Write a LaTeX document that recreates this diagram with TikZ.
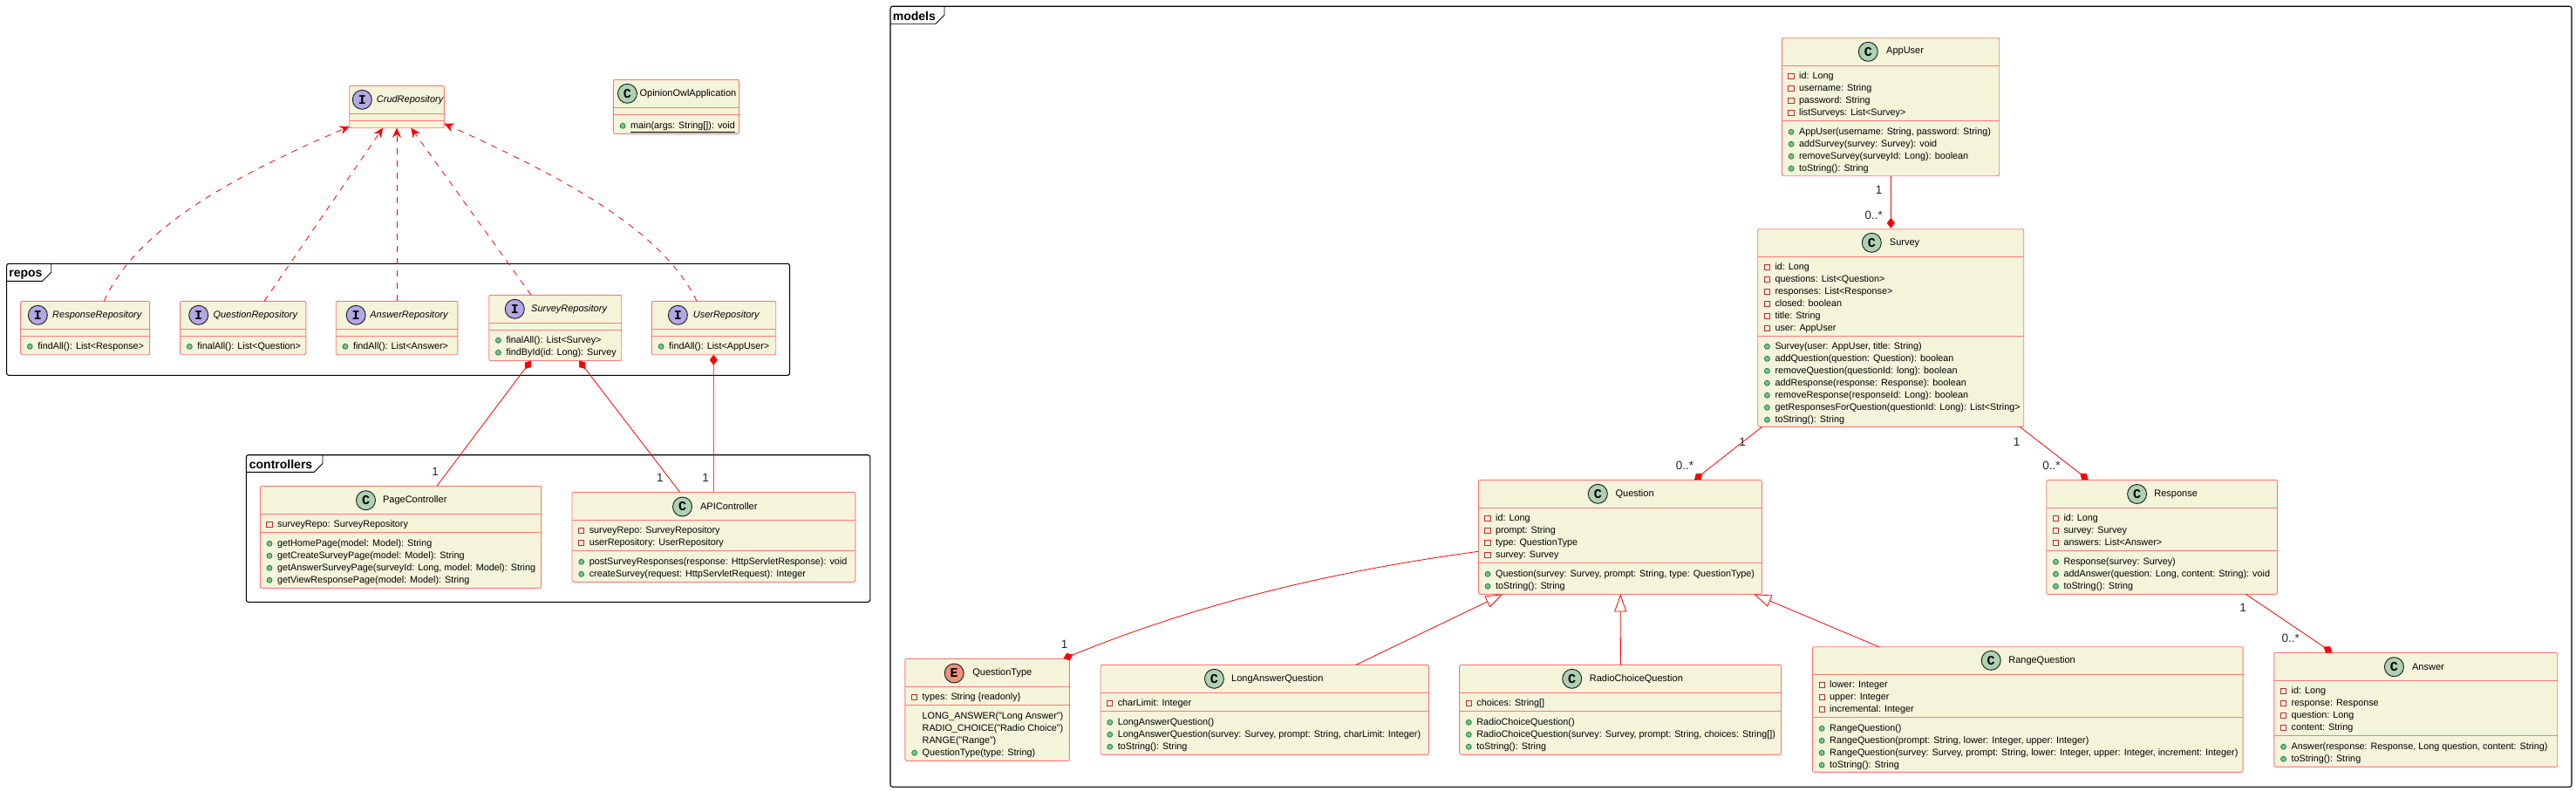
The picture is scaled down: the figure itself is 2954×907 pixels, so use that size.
\documentclass[tikz,border=0pt]{standalone}
\usepackage{fontspec}
\setmainfont{Liberation Sans}
\setmonofont{Liberation Mono}
\usepackage{xcolor}
\usepackage{tikz}
\usetikzlibrary{arrows.meta}
\definecolor{boxfill}{HTML}{F4F4DB}
\definecolor{boxline}{HTML}{FF7878}
\definecolor{linkred}{HTML}{FF0000}
\definecolor{privred}{HTML}{C82930}
\definecolor{pubfill}{HTML}{84BE84}
\definecolor{publine}{HTML}{038048}
\definecolor{classfill}{HTML}{ADD1B2}
\definecolor{ifacefill}{HTML}{B4A7E5}
\definecolor{enumfill}{HTML}{EB937F}
\tikzset{
  classnode/.style={draw=boxline,fill=boxfill,line width=.9pt,rounded corners=2pt,inner sep=0pt,outer sep=0pt},
  sepline/.style={draw=boxline,line width=.9pt},
  headicon/.style={circle,draw=black!90,line width=.9pt,minimum size=22pt,inner sep=0pt,font=\ttfamily\bfseries\fontsize{15}{15}\selectfont},
  headtext/.style={anchor=west,inner sep=0pt,font=\fontsize{11}{14}\selectfont},
  rowtext/.style={anchor=base west,inner sep=0pt,font=\fontsize{10.8}{14}\selectfont},
  attricon/.style={draw=privred,line width=.9pt},
  methodicon/.style={draw=publine,fill=pubfill,line width=.7pt},
  packframe/.style={draw=black,line width=1.1pt,rounded corners=2.5pt},
  packtab/.style={draw=black,line width=.9pt},
  packtext/.style={anchor=base west,inner sep=0pt,font=\bfseries\fontsize{14}{16}\selectfont},
  multlabel/.style={inner sep=0pt,text=black!85,font=\fontsize{13.5}{14}\selectfont},
  compose/.style={draw=linkred,line width=.8pt,-{Diamond[length=12pt,width=9pt,fill=linkred]}},
  inherit/.style={draw=linkred,line width=.8pt,-{Triangle[open,length=20pt,width=14pt,fill=white]}},
  realize/.style={draw=linkred,line width=.8pt,dash pattern=on 7pt off 7pt,-{Stealth[length=11pt,width=10pt,inset=3.5pt]}},
}
\newcommand{\classbox}[7]{%
  \pgfmathsetmacro{\boxw}{#4-#2}\pgfmathsetmacro{\boxh}{#5-#3}
  \node[classnode,minimum width=\boxw pt,minimum height=\boxh pt] (#1) at ({(#2+#4)/2},{(#3+#5)/2}) {};
  \draw[sepline] (#2,#6) -- (#4,#6);
  \draw[sepline] (#2,#7) -- (#4,#7);
}
\newcommand{\classhead}[7]{%
  \node[headicon,fill=#2] (#1-icon) at (#3,#4) {#5};
  \node[headtext] (#1-title) at (#6,#4) {#7};
}
\newcommand{\attrrows}[4]{%
  \foreach \rowitem [count=\n] in {#4} {
    \draw[attricon] (#2+7.6,#3+14*\n-16) rectangle ++(6.2,6.2);
    \node[rowtext] (#1-attr\n) at (#2+19.6,#3+14*\n-10) {\rowitem};
  }
}
\newcommand{\methodrows}[4]{%
  \foreach \rowitem [count=\n] in {#4} {
    \draw[methodicon] (#2+10.7,#3+14*\n-13) circle (3pt);
    \node[rowtext] (#1-meth\n) at (#2+19.6,#3+14*\n-10) {\rowitem};
  }
}
\newcommand{\plainrows}[4]{%
  \foreach \rowitem [count=\n] in {#4} {
    \node[rowtext] (#1-lit\n) at (#2+19.6,#3+14*\n-10) {\rowitem};
  }
}
\begin{document}
\begin{tikzpicture}[x=1pt,y=-1pt]
\useasboundingbox (0,0) rectangle (2954,907);
\draw[packframe] (7.6,302.3) rectangle (905.6,430.3);
\draw[packtab] (7.6,322.3) -- (48.7,322.3) -- (58.7,312.3) -- (58.7,302.3);
\node[packtext] (reposlabel) at (10.2,317.3) {repos};
\draw[packframe] (282.3,521.7) rectangle (997.8,690.3);
\draw[packtab] (282.3,541.3) -- (360.3,541.3) -- (370,531.5) -- (370,521.7);
\node[packtext] (controllerslabel) at (285.7,537.3) {controllers};
\draw[packframe] (1021,7.3) rectangle (2949,902.3);
\draw[packtab] (1021,27.3) -- (1073,27.3) -- (1083,17.3) -- (1083,7.3);
\node[packtext] (modelslabel) at (1023.6,23.3) {models};

\classbox{crudrepo}{400.7}{98.3}{509.3}{146.7}{130.5}{138.3}
\classhead{crudrepo}{ifacefill}{415.3}{114.3}{I}{431.7}{\textit{CrudRepository}}
\classbox{owlapp}{703.4}{91.3}{847.6}{153.3}{123.3}{131.3}
\classhead{owlapp}{classfill}{719.4}{107.3}{C}{733.4}{OpinionOwlApplication}
\methodrows{owlapp}{703.4}{143.3}{\underline{main(args: String[]): void}}

\classbox{responserepo}{23.6}{345.3}{171.6}{406.7}{377.3}{385.3}
\classhead{responserepo}{ifacefill}{43.4}{361.3}{I}{60}{\textit{ResponseRepository}}
\methodrows{responserepo}{23.6}{396.3}{findAll(): List<Response>}
\classbox{questionrepo}{206.6}{345.3}{350.8}{406.7}{377.3}{385.3}
\classhead{questionrepo}{ifacefill}{227.7}{361.3}{I}{244.3}{\textit{QuestionRepository}}
\methodrows{questionrepo}{206.6}{396.3}{finalAll(): List<Question>}
\classbox{answerrepo}{385.2}{345.3}{524.9}{406.7}{377.3}{385.3}
\classhead{answerrepo}{ifacefill}{408.2}{361.3}{I}{424.1}{\textit{AnswerRepository}}
\methodrows{answerrepo}{385.2}{396.3}{findAll(): List<Answer>}
\classbox{surveyrepo}{560.7}{338.3}{712.7}{413.5}{370.5}{378.3}
\classhead{surveyrepo}{ifacefill}{590.3}{354.3}{I}{609}{\textit{SurveyRepository}}
\methodrows{surveyrepo}{560.7}{389.3}{finalAll(): List<Survey>,{findById(id: Long): Survey}}
\classbox{userrepo}{747.4}{345.3}{889.7}{406.7}{377.3}{385.3}
\classhead{userrepo}{ifacefill}{777.4}{361.3}{I}{794.6}{\textit{UserRepository}}
\methodrows{userrepo}{747.4}{396.3}{findAll(): List<AppUser>}

\classbox{pagectrl}{298.3}{557.3}{620.6}{674.3}{589.3}{610.3}
\classhead{pagectrl}{classfill}{419.5}{573.7}{C}{438.9}{PageController}
\attrrows{pagectrl}{298.3}{600.3}{surveyRepo: SurveyRepository}
\methodrows{pagectrl}{298.3}{622.3}{{getHomePage(model: Model): String},{getCreateSurveyPage(model: Model): String},{getAnswerSurveyPage(surveyId: Long, model: Model): String},{getViewResponsePage(model: Model): String}}
\classbox{apictrl}{656}{564.3}{980.8}{667.3}{596.3}{631.3}
\classhead{apictrl}{classfill}{782.5}{581}{C}{802.9}{APIController}
\attrrows{apictrl}{656}{607.3}{surveyRepo: SurveyRepository,userRepository: UserRepository}
\methodrows{apictrl}{656}{643.3}{{postSurveyResponses(response: HttpServletResponse): void},{createSurvey(request: HttpServletRequest): Integer}}

\classbox{appuser}{2043.3}{43.3}{2292.7}{201.7}{75.3}{138.3}
\classhead{appuser}{classfill}{2142.3}{59.3}{C}{2163}{AppUser}
\attrrows{appuser}{2043.3}{86.3}{id: Long,username: String,password: String,listSurveys: List<Survey>}
\methodrows{appuser}{2043.3}{150.3}{{AppUser(username: String, password: String)},{addSurvey(survey: Survey): void},{removeSurvey(surveyId: Long): boolean},toString(): String}
\classbox{survey}{2015.7}{262.7}{2320.7}{489.3}{294.3}{385.3}
\classhead{survey}{classfill}{2146.3}{278.3}{C}{2166.7}{Survey}
\attrrows{survey}{2015.7}{305.3}{id: Long,questions: List<Question>,responses: List<Response>,closed: boolean,title: String,user: AppUser}
\methodrows{survey}{2015.7}{396.3}{{Survey(user: AppUser, title: String)},{addQuestion(question: Question): boolean},{removeQuestion(questionId: long): boolean},{addResponse(response: Response): boolean},{removeResponse(responseId: Long): boolean},{getResponsesForQuestion(questionId: Long): List<String>},toString(): String}
\classbox{question}{1695.3}{550.3}{2020.3}{681.3}{582.3}{645.3}
\classhead{question}{classfill}{1832.3}{566.3}{C}{1852.4}{Question}
\attrrows{question}{1695.3}{593.3}{id: Long,prompt: String,type: QuestionType,survey: Survey}
\methodrows{question}{1695.3}{657.3}{{Question(survey: Survey, prompt: String, type: QuestionType)},toString(): String}
\classbox{response}{2346.7}{550.3}{2611.6}{681.3}{582.3}{631.3}
\classhead{response}{classfill}{2450.6}{566.5}{C}{2470.2}{Response}
\attrrows{response}{2346.7}{593.3}{id: Long,survey: Survey,answers: List<Answer>}
\methodrows{response}{2346.7}{643.3}{Response(survey: Survey),{addAnswer(question: Long, content: String): void},toString(): String}
\classbox{answer}{2607.8}{748.3}{2932.7}{879.3}{780.3}{843.3}
\classhead{answer}{classfill}{2745.4}{764.7}{C}{2765.9}{Answer}
\attrrows{answer}{2607.8}{791.3}{id: Long,response: Response,question: Long,content: String}
\methodrows{answer}{2607.8}{855.3}{{Answer(response: Response, Long question, content: String)},toString(): String}
\classbox{questiontype}{1037.9}{755.3}{1226.3}{872.3}{787.7}{808.3}
\classhead{questiontype}{enumfill}{1094.2}{772}{E}{1115.2}{QuestionType}
\attrrows{questiontype}{1037.9}{798.7}{types: String \{readonly\}}
\plainrows{questiontype}{1037.9}{820.3}{LONG\_ANSWER("Long Answer"),RADIO\_CHOICE("Radio Choice"),RANGE("Range")}
\methodrows{questiontype}{1037.9}{862.3}{QuestionType(type: String)}
\classbox{longanswer}{1262}{762.3}{1638.4}{865.3}{794.3}{815.3}
\classhead{longanswer}{classfill}{1392.4}{778.3}{C}{1412}{LongAnswerQuestion}
\attrrows{longanswer}{1262}{805.3}{charLimit: Integer}
\methodrows{longanswer}{1262}{827.3}{LongAnswerQuestion(),{LongAnswerQuestion(survey: Survey, prompt: String, charLimit: Integer)},toString(): String}
\classbox{radiochoice}{1673.6}{762.3}{2042.6}{865.3}{794.3}{815.3}
\classhead{radiochoice}{classfill}{1802.7}{778.3}{C}{1822.7}{RadioChoiceQuestion}
\attrrows{radiochoice}{1673.6}{805.3}{choices: String[]}
\methodrows{radiochoice}{1673.6}{827.3}{RadioChoiceQuestion(),{RadioChoiceQuestion(survey: Survey, prompt: String, choices: String[])},toString(): String}
\classbox{rangeq}{2078.4}{741.7}{2572.1}{885.3}{773.3}{822.3}
\classhead{rangeq}{classfill}{2283.2}{757.3}{C}{2303.1}{RangeQuestion}
\attrrows{rangeq}{2078.4}{784.3}{lower: Integer,upper: Integer,incremental: Integer}
\methodrows{rangeq}{2078.4}{834.3}{RangeQuestion(),{RangeQuestion(prompt: String, lower: Integer, upper: Integer)},{RangeQuestion(survey: Survey, prompt: String, lower: Integer, upper: Integer, increment: Integer)},toString(): String}

\draw[realize] ([xshift=95.7pt]responserepo.north west) .. controls (155,265) and (260,205) .. ([yshift=1.7pt]crudrepo.south west);
\draw[realize] ([xshift=96.4pt]questionrepo.north west) -- ([xshift=38.3pt]crudrepo.south west);
\draw[realize] (answerrepo.north -| crudrepo.south) -- (crudrepo.south);
\draw[realize] ([xshift=48.3pt]surveyrepo.north west) -- ([xshift=70.6pt]crudrepo.south west);
\draw[realize] ([xshift=51.6pt]userrepo.north west) .. controls (760,265) and (650,205) .. ([yshift=5pt]crudrepo.south east);

\draw[compose] ([xshift=202.7pt]pagectrl.north west) -- ([xshift=48.3pt]surveyrepo.south west);
\draw[compose] ([xshift=123.6pt]apictrl.north west) -- ([xshift=103.3pt]surveyrepo.south west);
\draw[compose] ([xshift=162.3pt]apictrl.north west) -- ([xshift=70.9pt]userrepo.south west);
\draw[compose] ([xshift=125pt]appuser.south west) -- ([xshift=152.6pt,yshift=1pt]survey.north west);
\draw[compose] ([xshift=5pt]survey.south west) -- ([xshift=247.6pt]question.north west);
\draw[compose] ([xshift=-4.7pt]survey.south east) -- ([xshift=48pt]response.north west);
\draw[compose] ([xshift=-36.3pt]response.south east) -- ([xshift=66.7pt]answer.north west);
\draw[compose] ([yshift=-82pt]question.north west) .. controls (1530,655) and (1380,690) .. ([xshift=-7pt]questiontype.north east);

\draw[inherit] ([xshift=292.9pt]longanswer.north west) -- ([xshift=28.1pt]question.south west);
\draw[inherit] ([xshift=184.8pt]radiochoice.north west) -- ([xshift=162.9pt]question.south west);
\draw[inherit] ([xshift=76.2pt]rangeq.north west) -- ([xshift=-9pt]question.south east);

\node[multlabel] (pagemult) at (499,541.3) {1};
\node[multlabel] (apimulta) at (756.8,548.3) {1};
\node[multlabel] (apimultb) at (809.2,548.3) {1};
\node[multlabel] (usermult) at (2154.7,218.3) {1};
\node[multlabel] (surveymult) at (2148.7,246.7) {0..*};
\node[multlabel] (questionone) at (1998,506.7) {1};
\node[multlabel] (questionmany) at (1932,534) {0..*};
\node[multlabel] (responseone) at (2312.7,507) {1};
\node[multlabel] (responsemany) at (2352.5,534) {0..*};
\node[multlabel] (answerone) at (2572,697.3) {1};
\node[multlabel] (answermany) at (2626.6,732) {0..*};
\node[multlabel] (typemult) at (1220.5,739.3) {1};
\end{tikzpicture}
\end{document}
